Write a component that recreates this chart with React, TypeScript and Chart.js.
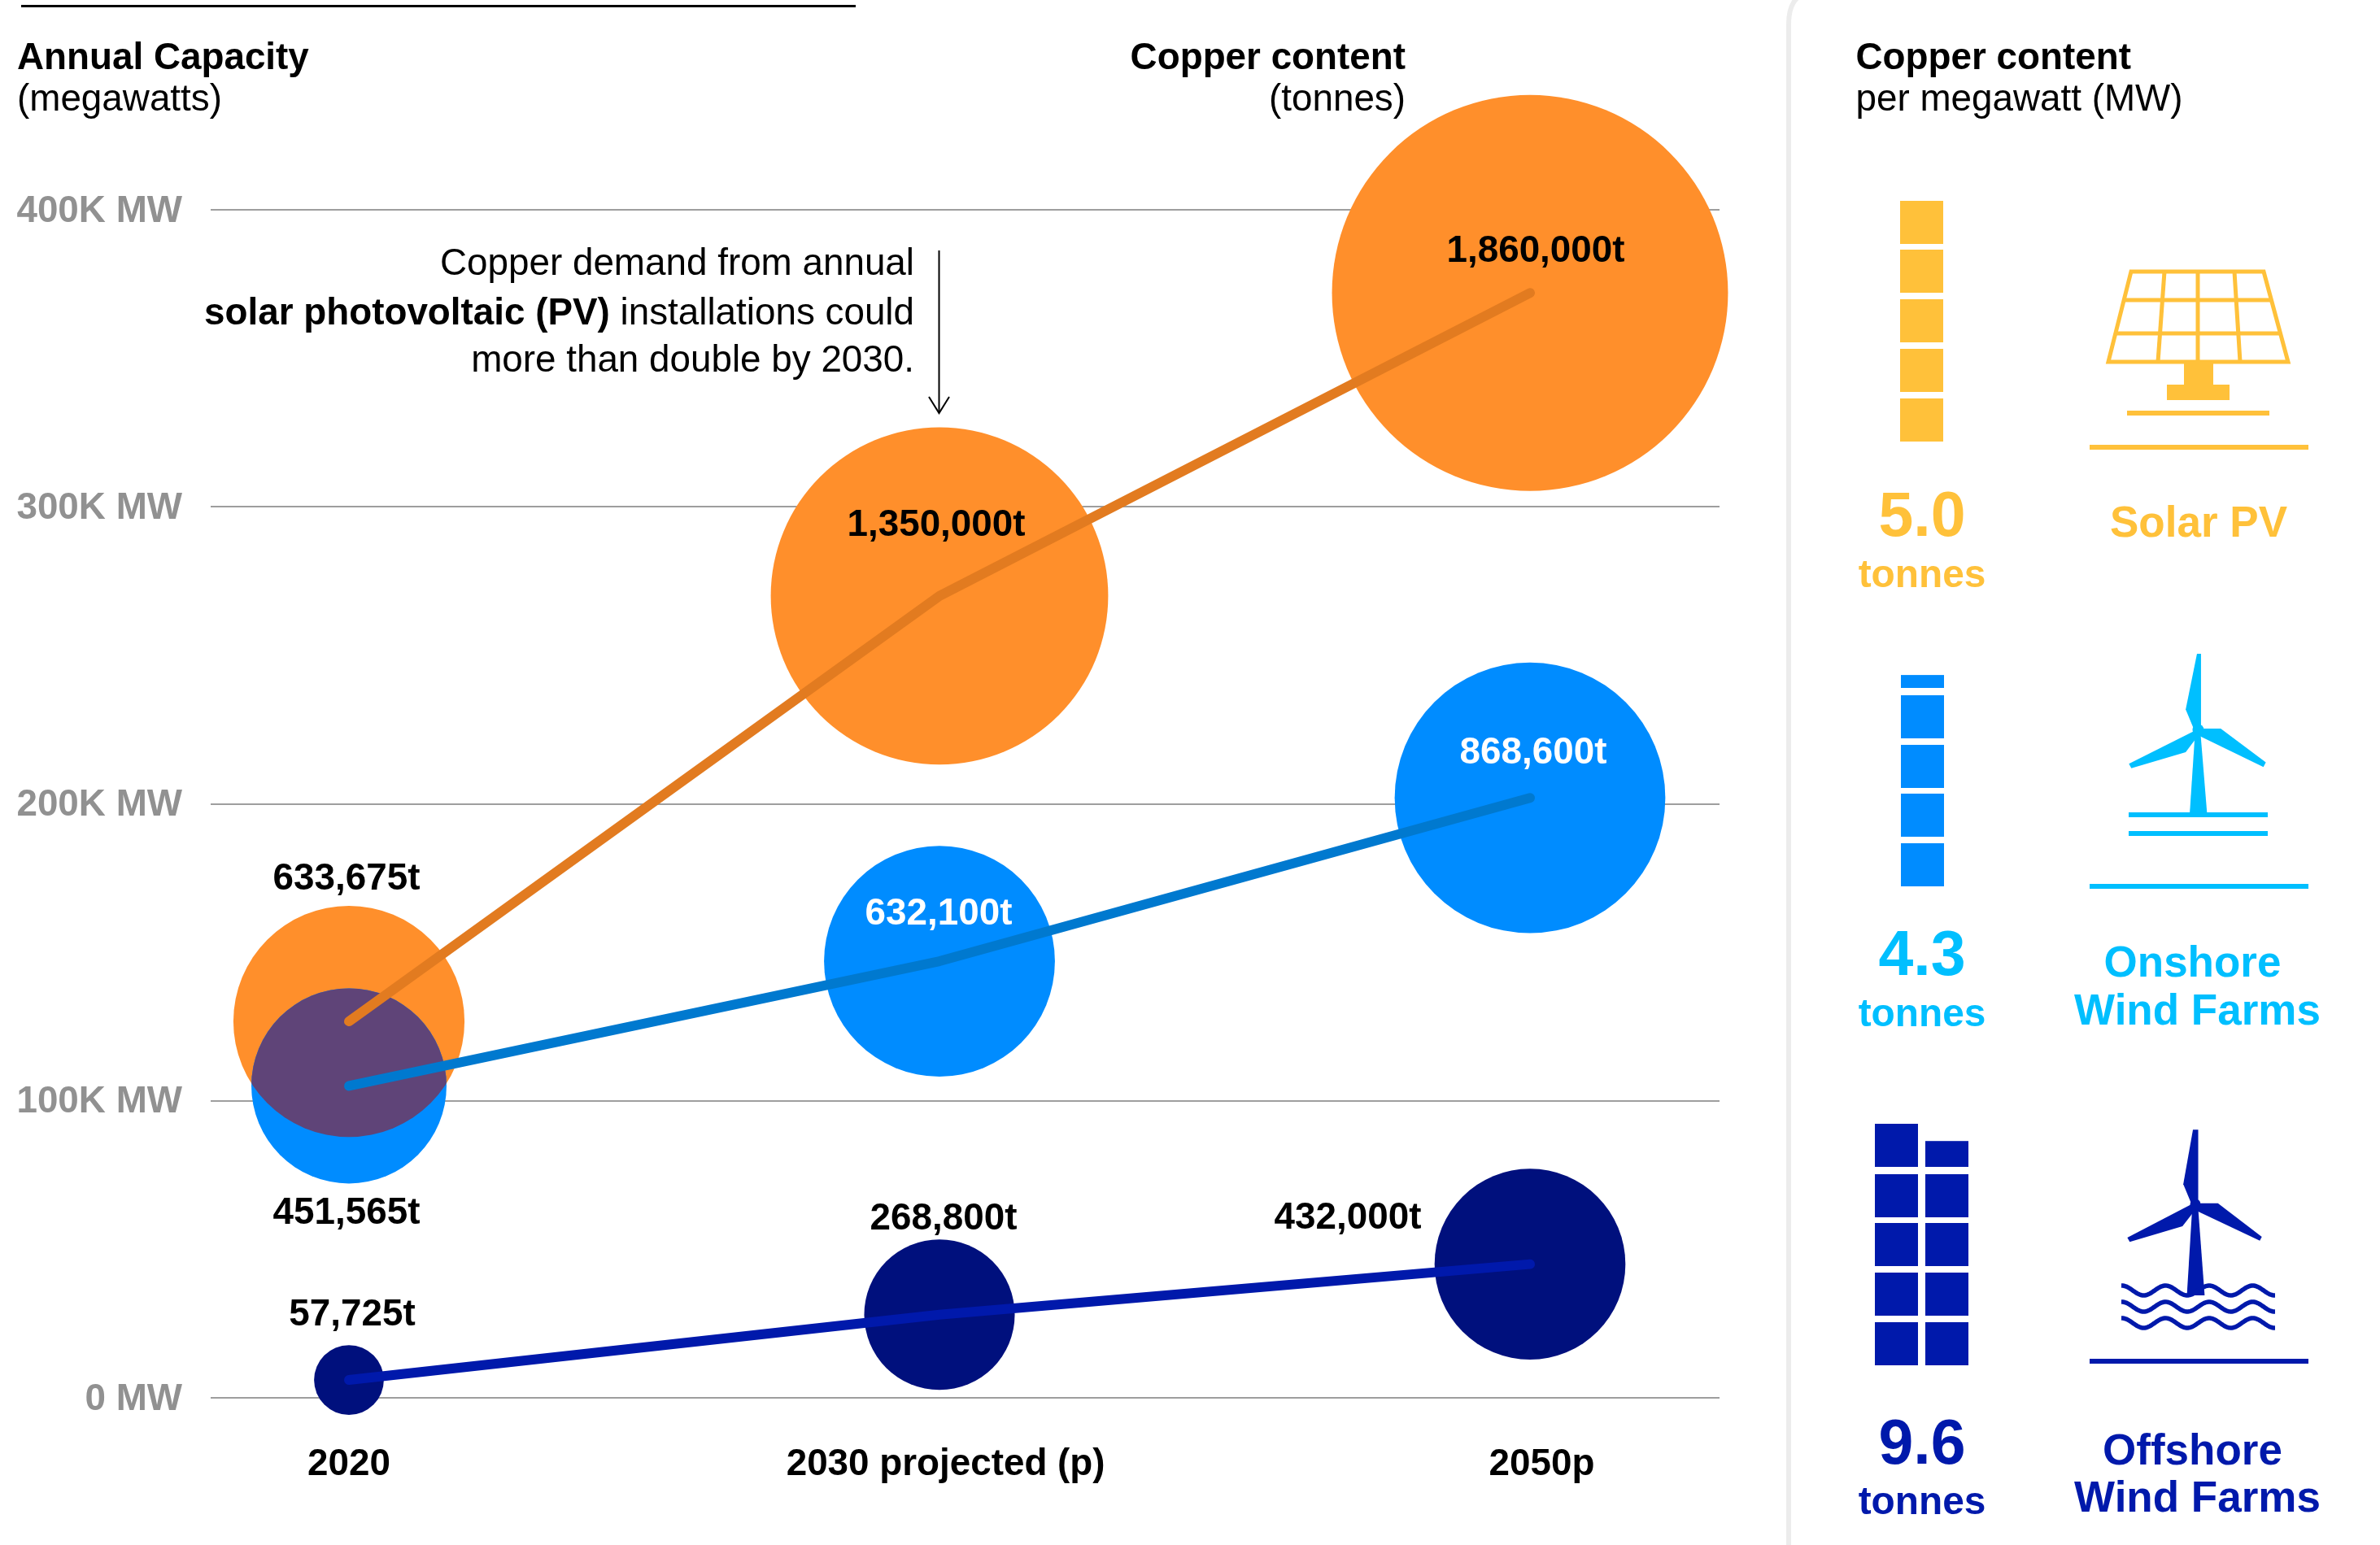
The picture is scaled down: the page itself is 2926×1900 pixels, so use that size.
import React, { useEffect, useRef } from "react";
import { Chart, registerables, BubbleController } from "chart.js";

Chart.register(...registerables);

// The bubbles may run past the plot area here, so they must not push the axes inward.
(BubbleController.prototype as any).getMaxOverflow = () => 0;

const categories = ["2020", "2030 projected (p)", "2050p"];
const categoryIndex = [0, 1, 2];
const xTickPositions = [0, 1.0105, 2.02];
const yTickValues = [0, 100000, 200000, 300000, 400000];

const solarCapacityMW = [126735, 270000, 372000];
const onshoreCapacityMW = [105015, 147000, 202000];
const offshoreCapacityMW = [6013, 28000, 45000];

const solarTonnes = [633675, 1350000, 1860000];
const onshoreTonnes = [451565, 632100, 868600];
const offshoreTonnes = [57725, 268800, 432000];

const solarLabels = ["633,675t", "1,350,000t", "1,860,000t"];
const onshoreLabels = ["451,565t", "632,100t", "868,600t"];
const offshoreLabels = ["57,725t", "268,800t", "432,000t"];

const copperPerMW = { solar: 5.0, onshore: 4.3, offshore: 9.6 };

const FONT = '"Liberation Sans", Arial, sans-serif';
const TXT = 45.8;
const RADIUS_K = 0.1785;

const C = {
  solarBubble: "#FF8F2B",
  solarLine: "#E27B20",
  onshoreBubble: "#008CFF",
  onshoreLine: "#0079CF",
  offshoreBubble: "#00107D",
  offshoreLine: "#0019AB",
  overlap: "#5F4478",
  grid: "#9E9E9E",
  tick: "#919191",
  panelSolar: "#FFC13A",
  panelOnshore: "#00BFFF",
  panelOnshoreBlock: "#008CFF",
  panelOffshore: "#0019AB",
};

const bubblePoints = (mw: number[], t: number[]) =>
  categoryIndex.map((x, i) => ({ x, y: mw[i], r: RADIUS_K * Math.sqrt(t[i]) }));
const linePoints = (mw: number[]) => categoryIndex.map((x, i) => ({ x, y: mw[i] }));

type Ctx = CanvasRenderingContext2D;

function text(ctx: Ctx, s: string, x: number, y: number, size: number, bold: boolean, color: string, align: CanvasTextAlign = "left") {
  ctx.font = `${bold ? "bold " : ""}${size}px ${FONT}`;
  ctx.fillStyle = color;
  ctx.textAlign = align;
  ctx.textBaseline = "alphabetic";
  ctx.fillText(s, x, y);
}

function poly(ctx: Ctx, pts: number[][], map: (p: number[]) => number[]) {
  ctx.beginPath();
  pts.forEach((p, i) => {
    const [x, y] = map(p);
    if (i === 0) ctx.moveTo(x, y);
    else ctx.lineTo(x, y);
  });
  ctx.closePath();
  ctx.fill();
}

function segment(ctx: Ctx, x1: number, y1: number, x2: number, y2: number) {
  ctx.beginPath();
  ctx.moveTo(x1, y1);
  ctx.lineTo(x2, y2);
  ctx.stroke();
}

// unit-block pictogram: one block per tonne, last block cut to the fraction
function blocks(ctx: Ctx, value: number, color: string, columns: number[], perColumn: number, bottoms: number[], blockW: number, blockH: number) {
  ctx.fillStyle = color;
  let left = value;
  columns.forEach((cx) => {
    for (let k = 0; k < perColumn && left > 0; k++) {
      const f = Math.min(left, 1);
      const h = blockH * f;
      ctx.fillRect(cx, bottoms[k] - h, blockW, h);
      left -= f;
    }
  });
}

function drawPanel(ctx: Ctx) {
  // divider
  ctx.save();
  ctx.strokeStyle = "#ECECEC";
  ctx.lineWidth = 6;
  ctx.beginPath();
  ctx.moveTo(2199, 1900);
  ctx.lineTo(2199, 30);
  ctx.quadraticCurveTo(2199, 8, 2209, -2);
  ctx.stroke();
  ctx.restore();

  text(ctx, "Copper content", 2281.5, 85, TXT, true, "#000");
  text(ctx, "per megawatt (MW)", 2281.5, 136, TXT, false, "#000");

  // solar
  blocks(ctx, copperPerMW.solar, C.panelSolar, [2336], 5, [543, 482, 421, 360, 300], 53, 53);
  ctx.strokeStyle = C.panelSolar;
  ctx.fillStyle = C.panelSolar;
  ctx.lineWidth = 5;
  ctx.lineJoin = "miter";
  ctx.beginPath();
  ctx.moveTo(2620, 334);
  ctx.lineTo(2783, 334);
  ctx.lineTo(2813, 445);
  ctx.lineTo(2592, 445);
  ctx.closePath();
  ctx.stroke();
  segment(ctx, 2611, 369, 2793, 369);
  segment(ctx, 2601, 410, 2804, 410);
  segment(ctx, 2702, 334, 2702, 445);
  segment(ctx, 2661, 334, 2653, 445);
  segment(ctx, 2747, 334, 2754, 445);
  ctx.fillRect(2685, 446, 36, 27);
  ctx.fillRect(2664, 473, 77, 19);
  ctx.fillRect(2615, 505, 175, 6);
  ctx.fillRect(2569, 547, 269, 6);
  text(ctx, "5.0", 2363, 659, 77, true, C.panelSolar, "center");
  text(ctx, "tonnes", 2363, 722, 47.8, true, C.panelSolar, "center");
  text(ctx, "Solar PV", 2703, 660, 53, true, C.panelSolar, "center");

  // onshore
  blocks(ctx, copperPerMW.onshore, C.panelOnshoreBlock, [2337], 5, [1090, 1029, 969, 908, 846], 53, 53);
  ctx.fillStyle = C.panelOnshore;
  const mapOn = (p: number[]) => [2150 + p[0] / 2.02, 760 + p[1] / 2.8];
  poly(ctx, [[1113, 123], [1123, 123], [1123, 385], [1106, 385], [1085, 315]], mapOn);
  poly(ctx, [[1118, 381], [1172, 381], [1284, 497], [1278, 513], [1118, 405]], mapOn);
  poly(ctx, [[1112, 385], [944, 502], [950, 517], [1085, 462], [1112, 412]], mapOn);
  poly(ctx, [[1108, 400], [1095, 672], [1138, 672], [1122, 400]], mapOn);
  ctx.beginPath();
  ctx.arc(mapOn([1116, 385])[0], mapOn([1116, 385])[1], 7, 0, Math.PI * 2);
  ctx.fill();
  ctx.fillRect(2617, 999, 171, 6);
  ctx.fillRect(2617, 1022, 171, 6);
  ctx.fillRect(2569, 1087, 269, 6);
  text(ctx, "4.3", 2363, 1199, 77, true, C.panelOnshore, "center");
  text(ctx, "tonnes", 2363, 1262, 47.8, true, C.panelOnshore, "center");
  text(ctx, "Onshore", 2695.5, 1201, 53, true, C.panelOnshore, "center");
  text(ctx, "Wind Farms", 2701.5, 1260, 53, true, C.panelOnshore, "center");

  // offshore
  blocks(ctx, copperPerMW.offshore, C.panelOffshore, [2305, 2367], 5, [1679, 1618, 1557, 1497, 1435], 53, 53);
  ctx.fillStyle = C.panelOffshore;
  const mapOff = (p: number[]) => [2150 + p[0] / 2.02, 1320 + p[1] / 2.703];
  poly(ctx, [[1103, 187], [1116, 187], [1116, 430], [1098, 430], [1079, 368]], mapOff);
  poly(ctx, [[1112, 432], [1165, 432], [1274, 543], [1269, 556], [1112, 457]], mapOff);
  poly(ctx, [[1104, 432], [940, 546], [946, 560], [1077, 508], [1106, 458]], mapOff);
  poly(ctx, [[1101, 450], [1088, 738], [1132, 738], [1116, 450]], mapOff);
  ctx.beginPath();
  ctx.arc(mapOff([1109, 435])[0], mapOff([1109, 435])[1], 6.5, 0, Math.PI * 2);
  ctx.fill();
  ctx.strokeStyle = C.panelOffshore;
  ctx.lineWidth = 5.5;
  ctx.lineCap = "butt";
  [1587, 1607, 1627].forEach((yc) => {
    ctx.beginPath();
    for (let x = 2608; x <= 2797; x += 1) {
      const y = yc + 6 * Math.cos(((x - 2635.5) / 53.6) * 2 * Math.PI);
      if (x === 2608) ctx.moveTo(x, y);
      else ctx.lineTo(x, y);
    }
    ctx.stroke();
  });
  ctx.fillStyle = C.panelOffshore;
  ctx.fillRect(2569, 1671, 269, 6);
  text(ctx, "9.6", 2363, 1800, 77, true, C.panelOffshore, "center");
  text(ctx, "tonnes", 2363, 1862, 47.8, true, C.panelOffshore, "center");
  text(ctx, "Offshore", 2695.5, 1801, 53, true, C.panelOffshore, "center");
  text(ctx, "Wind Farms", 2701.5, 1859, 53, true, C.panelOffshore, "center");
}

function drawHeaders(ctx: Ctx) {
  ctx.fillStyle = "#000";
  ctx.fillRect(26, 6, 1026, 3);
  text(ctx, "Annual Capacity", 21, 85, TXT, true, "#000");
  text(ctx, "(megawatts)", 21, 136, TXT, false, "#000");
  text(ctx, "Copper content", 1728, 85, TXT, true, "#000", "right");
  text(ctx, "(tonnes)", 1728, 136, TXT, false, "#000", "right");

  // annotation
  const right = 1124;
  text(ctx, "Copper demand from annual", right, 338, TXT, false, "#000", "right");
  ctx.font = `${TXT}px ${FONT}`;
  const tail = " installations could";
  const tailW = ctx.measureText(tail).width;
  text(ctx, tail, right, 399, TXT, false, "#000", "right");
  text(ctx, "solar photovoltaic (PV)", right - tailW, 399, TXT, true, "#000", "right");
  text(ctx, "more than double by 2030.", right, 457, TXT, false, "#000", "right");

  ctx.strokeStyle = "#000";
  ctx.lineWidth = 2;
  ctx.lineCap = "butt";
  ctx.lineJoin = "miter";
  segment(ctx, 1154.5, 308, 1154.5, 508);
  ctx.beginPath();
  ctx.moveTo(1142, 488);
  ctx.lineTo(1154.5, 508);
  ctx.lineTo(1167, 488);
  ctx.stroke();
}

const overlapPlugin = {
  id: "overlap",
  afterDatasetDraw(chart: any, args: any) {
    if (args.index !== 1) return;
    const a = chart.getDatasetMeta(0).data[0];
    const b = chart.getDatasetMeta(1).data[0];
    const ra = a.options.radius;
    const rb = b.options.radius;
    const ctx = chart.ctx as Ctx;
    ctx.save();
    ctx.beginPath();
    ctx.arc(a.x, a.y, ra, 0, Math.PI * 2);
    ctx.clip();
    ctx.beginPath();
    ctx.arc(b.x, b.y, rb, 0, Math.PI * 2);
    ctx.fillStyle = C.overlap;
    ctx.fill();
    ctx.restore();
  },
};

// label offsets from each bubble's centre (dx, dy), per series
const solarLabelOffsets = [[-3, -175], [-4, -86], [7, -51]];
const onshoreLabelOffsets = [[-3, 157], [-1, -58], [4, -55]];
const offshoreLabelOffsets = [[4, -80], [5, -117], [-224, -56]];

const overlayPlugin = {
  id: "overlay",
  beforeDraw(chart: any) {
    const ctx = chart.ctx as Ctx;
    ctx.save();
    ctx.fillStyle = "#fff";
    ctx.fillRect(0, 0, chart.width, chart.height);
    ctx.restore();
  },
  afterDatasetsDraw(chart: any) {
    const ctx = chart.ctx as Ctx;
    ctx.save();
    const put = (idx: number, labels: string[], offs: number[][], color: string[]) => {
      chart.getDatasetMeta(idx).data.forEach((el: any, i: number) => {
        ctx.font = `bold ${TXT}px ${FONT}`;
        ctx.fillStyle = color[i];
        ctx.textAlign = "center";
        ctx.textBaseline = "middle";
        ctx.fillText(labels[i], el.x + offs[i][0], el.y + offs[i][1]);
      });
    };
    put(0, solarLabels, solarLabelOffsets, ["#000", "#000", "#000"]);
    put(1, onshoreLabels, onshoreLabelOffsets, ["#000", "#fff", "#fff"]);
    put(2, offshoreLabels, offshoreLabelOffsets, ["#000", "#000", "#000"]);
    drawHeaders(ctx);
    drawPanel(ctx);
    ctx.restore();
  },
};

export default function App() {
  const ref = useRef<HTMLCanvasElement | null>(null);

  useEffect(() => {
    document.body.style.margin = "0";
    document.documentElement.style.overflow = "hidden";
    if (!ref.current) return;
    const lineBase = { type: "line" as const, borderWidth: 12, borderCapStyle: "round" as const, borderJoinStyle: "round" as const, tension: 0, pointRadius: 0, fill: false, clip: false as any };
    const bubbleBase = { type: "bubble" as const, borderWidth: 0, clip: false as any };
    const chart = new Chart(ref.current, {
      type: "bubble",
      data: {
        datasets: [
          { ...bubbleBase, label: "Solar PV copper", data: bubblePoints(solarCapacityMW, solarTonnes), backgroundColor: C.solarBubble, order: 9 },
          { ...bubbleBase, label: "Onshore copper", data: bubblePoints(onshoreCapacityMW, onshoreTonnes), backgroundColor: C.onshoreBubble, order: 8 },
          { ...bubbleBase, label: "Offshore copper", data: bubblePoints(offshoreCapacityMW, offshoreTonnes), backgroundColor: C.offshoreBubble, order: 7 },
          { ...lineBase, label: "Solar PV capacity", data: linePoints(solarCapacityMW), borderColor: C.solarLine, order: 3 },
          { ...lineBase, label: "Onshore capacity", data: linePoints(onshoreCapacityMW), borderColor: C.onshoreLine, order: 2 },
          { ...lineBase, label: "Offshore capacity", data: linePoints(offshoreCapacityMW), borderColor: C.offshoreLine, order: 1 },
        ] as any,
      },
      options: {
        animation: false,
        responsive: false,
        devicePixelRatio: 1,
        layout: { padding: { top: 258, right: 812, left: 0, bottom: 0 } },
        font: { family: FONT } as any,
        plugins: { legend: { display: false }, tooltip: { enabled: false }, title: { display: false } },
        scales: {
          x: {
            type: "linear",
            min: -170 / 726,
            max: 2 + 233 / 726,
            grid: { display: false },
            border: { display: false },
            afterBuildTicks: (s: any) => {
              s.ticks = xTickPositions.map((value) => ({ value }));
            },
            afterFit: (s: any) => {
              s.height = 181;
            },
            ticks: {
              autoSkip: false,
              maxRotation: 0,
              padding: 47,
              color: "#000",
              font: { family: FONT, size: TXT, weight: "bold" },
              callback: (_v: any, i: number) => categories[i],
            },
          },
          y: {
            type: "linear",
            min: 0,
            max: 400000,
            afterBuildTicks: (s: any) => {
              s.ticks = yTickValues.map((value) => ({ value }));
            },
            afterFit: (s: any) => {
              s.width = 259;
            },
            grid: { color: C.grid, lineWidth: 2, drawTicks: false },
            border: { display: false },
            ticks: {
              padding: 35,
              labelOffset: 2,
              color: C.tick,
              font: { family: FONT, size: TXT, weight: "bold" },
              callback: (v: any) => (v === 0 ? "0 MW" : `${Number(v) / 1000}K MW`),
            },
          },
        },
      } as any,
      plugins: [overlapPlugin, overlayPlugin] as any,
    });
    return () => chart.destroy();
  }, []);

  return (
    <div style={{ position: "absolute", left: 0, top: 0, width: 2926, height: 1900 }}>
      <canvas ref={ref} width={2926} height={1900} style={{ display: "block", width: 2926, height: 1900 }} />
    </div>
  );
}
